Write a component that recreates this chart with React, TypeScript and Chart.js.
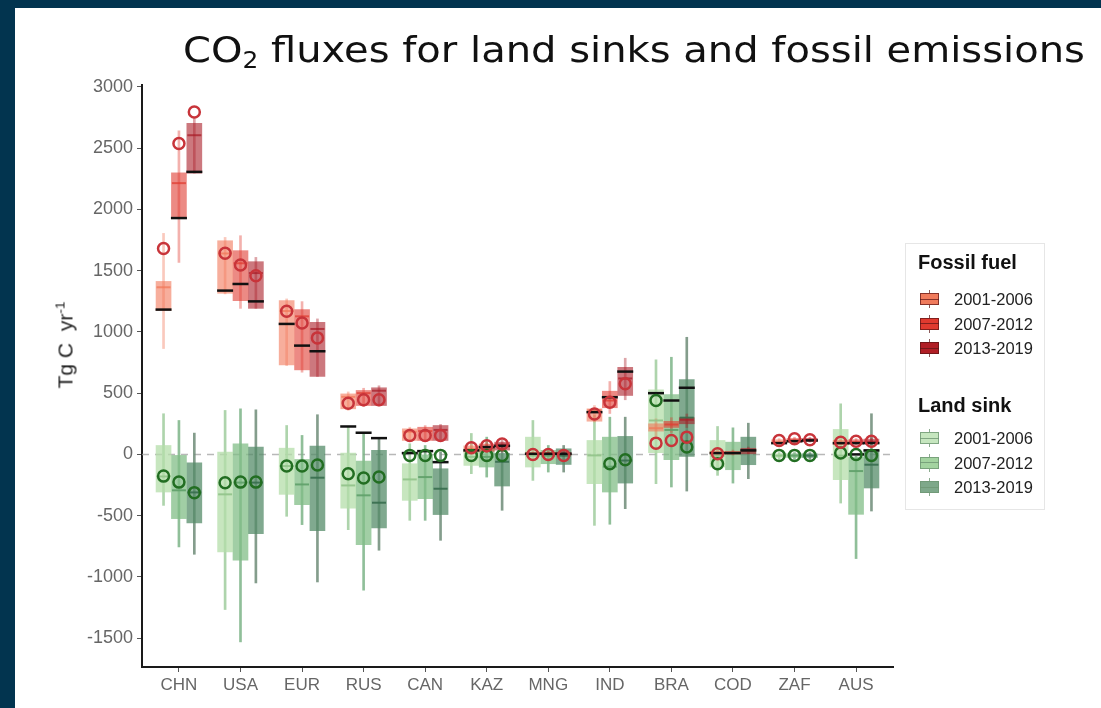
import React, { useEffect, useRef } from 'react';
import { Chart, registerables } from 'chart.js';
Chart.register(...registerables);

const countries = ['CHN', 'USA', 'EUR', 'RUS', 'CAN', 'KAZ', 'MNG', 'IND', 'BRA', 'COD', 'ZAF', 'AUS'];
const periods = ['2001-2006', '2007-2012', '2013-2019'];
const yTicks = [-1500, -1000, -500, 0, 500, 1000, 1500, 2000, 2500, 3000];

// [min, q1, median, q3, max] per country
const fossilBox0106 = [
  [864, 1174, 1364, 1412, 1804], [1310, 1315, 1640, 1744, 1771], [725, 731, 1170, 1255, 1269],
  [360, 372, 470, 494, 510], [105, 114, 185, 209, 222], [5, 20, 45, 70, 90],
  [-10, 0, 8, 15, 25], [265, 271, 360, 372, 399], [150, 190, 214, 250, 290],
  [-5, 0, 10, 25, 35], [80, 88, 100, 120, 130], [75, 80, 95, 115, 125],
];
const fossilBox0712 = [
  [1567, 1926, 2214, 2298, 2641], [1192, 1255, 1560, 1663, 1785], [671, 690, 1127, 1182, 1247],
  [390, 399, 500, 522, 540], [105, 114, 190, 222, 235], [15, 25, 60, 85, 100],
  [-10, 0, 8, 15, 25], [334, 381, 440, 516, 595], [180, 220, 244, 270, 300],
  [-5, 0, 10, 25, 35], [95, 100, 115, 130, 140], [80, 85, 100, 120, 130],
];
const fossilBox1319 = [
  [2296, 2296, 2605, 2703, 2749], [1192, 1192, 1480, 1573, 1608], [636, 636, 1024, 1078, 1106],
  [395, 399, 520, 544, 560], [105, 114, 200, 236, 245], [20, 35, 80, 100, 115],
  [-15, -5, 5, 15, 25], [446, 481, 620, 711, 785], [220, 250, 283, 300, 330],
  [0, 5, 30, 50, 60], [100, 105, 120, 130, 140], [85, 90, 105, 125, 135],
];
const fossilLine0106 = [1182, 1337, 1065, null, null, 33, 5, 345, null, 11, 92, 92];
const fossilLine0712 = [1929, 1391, 888, null, null, 60, 5, 467, null, 11, 108, 92];
const fossilLine1319 = [2306, 1249, 842, null, null, 70, 5, 676, null, 33, 114, 92];
const fossilCircle0106 = [1681, 1641, 1168, 418, 155, 55, 0, 330, 92, 5, 114, 100];
const fossilCircle0712 = [2537, 1546, 1073, 446, 155, 70, 0, 426, 114, null, 128, 108];
const fossilCircle1319 = [2795, 1459, 951, 446, 155, 85, -8, 576, 141, null, 120, 108];

const sinkBox0106 = [
  [-416, -307, -180, 73, 332], [-1266, -796, -326, 19, 359], [-505, -326, -95, 51, 236],
  [-614, -438, -253, 11, 228], [-538, -375, -204, -76, 87], [-157, -90, -20, 46, 171],
  [-212, -103, -10, 141, 277], [-579, -239, -8, 114, 318], [-239, 14, 277, 527, 772],
  [-171, -103, -10, 114, 228], [-40, -25, -10, 5, 15], [-397, -206, -10, 204, 413],
];
const sinkBox0712 = [
  [-755, -524, -293, -8, 277], [-1530, -864, -230, 87, 372], [-573, -410, -245, -41, 155],
  [-1108, -736, -334, -55, 177], [-538, -361, -185, 0, 73], [-185, -103, -20, 60, 141],
  [-144, -76, -10, 33, 73], [-570, -307, -100, 141, 304], [-266, -43, 200, 489, 793],
  [-234, -125, 10, 100, 217], [-40, -25, -10, 5, 15], [-850, -489, -136, -22, -15],
];
const sinkBox1319 = [
  [-815, -560, -310, -68, 174], [-1049, -646, -230, 60, 364], [-1041, -622, -190, 68, 324],
  [-782, -600, -394, 33, 133], [-701, -491, -280, -117, 19], [-456, -258, -60, 8, 60],
  [-144, -82, -10, 46, 73], [-443, -234, -50, 147, 304], [-299, -16, 300, 611, 956],
  [-198, -84, 30, 141, 255], [-40, -25, -10, 5, 15], [-462, -274, -84, 33, 332],
];
const sinkLine0106 = [null, null, null, 228, 11, null, null, null, 500, null, null, null];
const sinkLine0712 = [null, null, null, 177, 27, null, null, null, 440, null, null, 0];
const sinkLine1319 = [null, null, null, 133, -63, null, null, null, 544, null, null, 33];
const sinkCircle0106 = [-177, -231, -95, -157, -8, -8, null, null, 440, -76, -8, 11];
const sinkCircle0712 = [-226, -226, -95, -193, -8, -8, null, -76, null, null, -8, 0];
const sinkCircle1319 = [-312, -226, -87, -185, -8, -8, null, -43, 60, null, -8, -8];

const dodge = [-0.25, 0, 0.25];
const fossilBase = [[242, 120, 90], [224, 60, 50], [170, 30, 40]];
const sinkBase = [[180, 222, 170], [130, 190, 135], [85, 140, 105]];
const sinkMedian = [[145, 195, 138], [95, 160, 105], [55, 110, 78]];
const sinkWhisker = [[160, 205, 158], [125, 180, 135], [110, 140, 120]];
const fossilLegend = ['#f07b5c', '#e03a2f', '#b01e25'];
const sinkLegend = ['#c6e6bf', '#a3d3a0', '#7ea88a'];

const rgba = (c: number[], a: number) => `rgba(${c[0]},${c[1]},${c[2]},${a})`;
const FONT = "'Liberation Sans', Arial, sans-serif";

function buildGroup(kind: 'fossil' | 'sink', p: number, boxes: number[][], lines: (number | null)[], circles: (number | null)[]) {
  const isF = kind === 'fossil';
  const base = isF ? fossilBase[p] : sinkBase[p];
  const xs = (i: number) => i + dodge[p];
  const out: any[] = [];
  out.push({
    type: 'bar', grouped: false, barThickness: 2, order: isF ? 70 : 90,
    backgroundColor: isF ? rgba(base, 0.4) : rgba(sinkWhisker[p], 0.85),
    data: boxes.map((b, i) => ({ x: xs(i), y: [b[0], b[4]] })),
  });
  out.push({
    type: 'bar', grouped: false, barThickness: 15, order: isF ? 60 : 80,
    backgroundColor: isF ? rgba(base, 0.6) : rgba(base, 0.75),
    borderWidth: 0,
    data: boxes.map((b, i) => ({ x: xs(i), y: [b[1], b[3]] })),
  });
  out.push({
    type: 'scatter', order: isF ? 45 : 50, pointStyle: 'line', pointRadius: 7, borderWidth: 2,
    borderColor: isF ? rgba(base, 0.75) : rgba(sinkMedian[p], 0.9),
    data: boxes.map((b, i) => ({ x: xs(i), y: b[2] })),
  });
  out.push({
    type: 'scatter', order: 30, pointStyle: 'line', pointRadius: 8, borderWidth: 2.5,
    borderColor: '#111111',
    data: lines.map((v, i) => ({ x: xs(i), y: v })),
  });
  out.push({
    type: 'scatter', order: isF ? 10 : 20, pointStyle: 'circle', pointRadius: 5.5, borderWidth: 2.5,
    borderColor: isF ? 'rgb(200,52,58)' : 'rgb(34,110,34)', backgroundColor: 'rgba(0,0,0,0)',
    data: circles.map((v, i) => ({ x: xs(i), y: v })),
  });
  return out;
}

function LegendIcon({ color, border }: { color: string; border: string }) {
  return (
    <div style={{ position: 'absolute', left: 0, top: -9, width: 21, height: 18 }}>
      <div style={{ position: 'absolute', left: 10, top: 0, width: 1, height: 18, background: border }} />
      <div style={{ position: 'absolute', left: 1, top: 3, width: 19, height: 12, background: color, boxSizing: 'border-box', border: `1px solid ${border}` }} />
      <div style={{ position: 'absolute', left: 1, top: 8.5, width: 19, height: 1, background: border }} />
    </div>
  );
}

export default function App() {
  const ref = useRef<HTMLCanvasElement>(null);
  useEffect(() => {
    const datasets: any[] = [
      {
        type: 'line', order: 100, borderColor: 'rgba(160,160,160,0.75)', borderWidth: 1.5, borderDash: [7, 6],
        pointRadius: 0, data: [{ x: -0.6, y: 0 }, { x: 11.6, y: 0 }],
      },
      ...buildGroup('sink', 0, sinkBox0106, sinkLine0106, sinkCircle0106),
      ...buildGroup('sink', 1, sinkBox0712, sinkLine0712, sinkCircle0712),
      ...buildGroup('sink', 2, sinkBox1319, sinkLine1319, sinkCircle1319),
      ...buildGroup('fossil', 0, fossilBox0106, fossilLine0106, fossilCircle0106),
      ...buildGroup('fossil', 1, fossilBox0712, fossilLine0712, fossilCircle0712),
      ...buildGroup('fossil', 2, fossilBox1319, fossilLine1319, fossilCircle1319),
    ];
    const chart = new Chart(ref.current!, {
      type: 'bar',
      data: { datasets },
      options: {
        animation: false,
        responsive: false,
        devicePixelRatio: 1,
        events: [],
        layout: { padding: { left: 0, top: 77, right: 208, bottom: 0 } },
        plugins: { legend: { display: false }, tooltip: { enabled: false } },
        scales: {
          x: {
            type: 'linear', min: -0.6, max: 11.6, offset: false,
            afterBuildTicks: (s: any) => { s.ticks = countries.map((_, i) => ({ value: i })); },
            afterFit: (s: any) => { s.height = 41; },
            ticks: {
              callback: (v: any) => countries[v] ?? '', color: '#666', font: { family: FONT, size: 17 },
              padding: 3, autoSkip: false, maxRotation: 0,
            },
            grid: { offset: false, drawOnChartArea: false, drawTicks: true, tickLength: 5, color: '#555' },
            border: { display: true, color: '#1a1a1a', width: 2 },
          },
          y: {
            type: 'linear', min: -1735, max: 3015,
            afterBuildTicks: (s: any) => { s.ticks = yTicks.map((v) => ({ value: v })); },
            afterFit: (s: any) => { s.width = 127; },
            ticks: { callback: (v: any) => String(v), color: '#666', font: { family: FONT, size: 18 }, padding: 4 },
            grid: { drawOnChartArea: false, drawTicks: true, tickLength: 5, color: '#555' },
            border: { display: true, color: '#1a1a1a', width: 2 },
          },
        },
      } as any,
    });
    return () => chart.destroy();
  }, []);

  return (
    <div style={{ position: 'fixed', left: 0, top: 0, width: 1101, height: 708, background: '#02344f', overflow: 'hidden' }}>
      <div style={{ position: 'absolute', left: 15, top: 8, width: 1086, height: 700, background: '#ffffff' }}>
        <canvas ref={ref} width={1086} height={700} style={{ position: 'absolute', left: 0, top: 0, width: 1086, height: 700 }} />
        <div style={{ position: 'absolute', left: 168, top: 24, fontFamily: "'DejaVu Sans', Verdana, sans-serif", fontSize: 36, lineHeight: 1, color: '#111', whiteSpace: 'nowrap', transform: 'scaleX(1.112)', transformOrigin: '0 0' }}>
          CO<sub style={{ fontSize: '0.62em', verticalAlign: '-0.25em' }}>2</sub> fluxes for land sinks and fossil emissions
        </div>
        <div style={{ position: 'absolute', left: 50, top: 337, transform: 'translate(-50%, -50%) rotate(-90deg)', fontFamily: FONT, fontSize: 21, color: '#222', whiteSpace: 'nowrap' }}>
          Tg C&nbsp; yr<sup style={{ fontSize: '0.65em' }}>-1</sup>
        </div>
        <div style={{ position: 'absolute', left: 890, top: 235, width: 138, height: 265, border: '1px solid #e6e6e6', fontFamily: FONT, color: '#111' }}>
          <div style={{ position: 'absolute', left: 12, top: 8, fontSize: 20, fontWeight: 'bold', lineHeight: 1 }}>Fossil fuel</div>
          {periods.map((p, i) => (
            <div key={'f' + p} style={{ position: 'absolute', left: 13, top: 55 + i * 24.5 }}>
              <LegendIcon color={fossilLegend[i]} border={'rgba(90,20,20,0.7)'} />
              <div style={{ position: 'absolute', left: 35, top: -10, fontSize: 16.5, lineHeight: '20px', whiteSpace: 'nowrap', color: '#222' }}>{p}</div>
            </div>
          ))}
          <div style={{ position: 'absolute', left: 12, top: 151, fontSize: 20, fontWeight: 'bold', lineHeight: 1 }}>Land sink</div>
          {periods.map((p, i) => (
            <div key={'s' + p} style={{ position: 'absolute', left: 13, top: 194 + i * 24.5 }}>
              <LegendIcon color={sinkLegend[i]} border={'rgba(110,150,115,0.8)'} />
              <div style={{ position: 'absolute', left: 35, top: -10, fontSize: 16.5, lineHeight: '20px', whiteSpace: 'nowrap', color: '#222' }}>{p}</div>
            </div>
          ))}
        </div>
      </div>
    </div>
  );
}
